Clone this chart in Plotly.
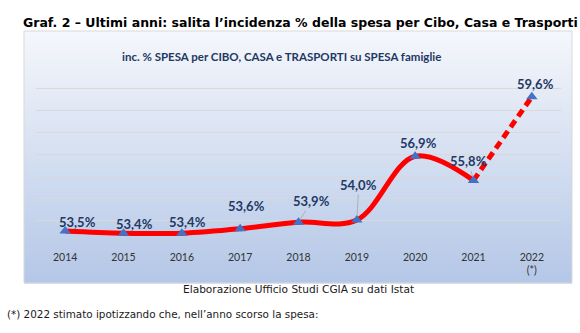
import plotly.graph_objects as go

# ---- data ----
years = [2014, 2015, 2016, 2017, 2018, 2019, 2020, 2021, 2022]
values = [53.5, 53.4, 53.4, 53.6, 53.9, 54.0, 56.9, 55.8, 59.6]
value_labels = ["53,5%", "53,4%", "53,4%", "53,6%", "53,9%", "54,0%", "56,9%", "55,8%", "59,6%"]
tick_labels = ["2014", "2015", "2016", "2017", "2018", "2019", "2020", "2021", "2022<br>(*)"]
n_actual = 8  # 2014-2021 observed, 2022 estimated

title_main = "Graf. 2 – Ultimi anni: salita l’incidenza % della spesa per Cibo, Casa e Trasporti"
title_inner = "inc. % SPESA per CIBO, CASA e TRASPORTI su SPESA famiglie"
caption = "Elaborazione Ufficio Studi CGIA su dati Istat"
footnote = "(*) 2022 stimato ipotizzando che, nell’anno scorso la spesa:"

# ---- layout geometry (pixels) ----
W, H = 580, 333
ML, MR, MT, MB = 36, 19, 66, 91
PW, PH = W - ML - MR, H - MT - MB

def px_x(px):
    return (px - ML) / PW

def px_y(py):
    return (H - MB - py) / PH

# label offsets (style): (dx, dy, leader)
label_style = [(12, -9, False), (11, -9, False), (6, -11, False), (6, -23, False),
               (13, -21, True), (2, -35, True), (3, -13, False), (-5, -19, True), (4, -13, False)]

fig = go.Figure()

# solid observed line
fig.add_trace(go.Scatter(x=years[:n_actual], y=values[:n_actual], mode="lines",
                         line=dict(color="#ff0000", width=5, shape="spline", smoothing=1),
                         hoverinfo="skip", showlegend=False))
# dashed estimate segment
fig.add_trace(go.Scatter(x=years[n_actual - 1:], y=values[n_actual - 1:], mode="lines",
                         line=dict(color="#ff0000", width=5, dash="8px,5px"),
                         hoverinfo="skip", showlegend=False))
# markers
fig.add_trace(go.Scatter(x=years, y=values, mode="markers",
                         marker=dict(symbol="triangle-up", size=10, color="#4472c4"),
                         hoverinfo="skip", showlegend=False))

shapes = []
# gradient box background
box_l, box_r, box_t, box_b = 24, 572, 31, 283
top_c = (245, 247, 251)
bot_c = (180, 199, 231)
n_strips = 63
step = (box_b - box_t) / n_strips
for i in range(n_strips):
    t = (i + 0.5) / n_strips
    c = tuple(round(top_c[k] + (bot_c[k] - top_c[k]) * t) for k in range(3))
    y0 = box_t + i * step
    y1 = box_t + (i + 1) * step + 0.6
    shapes.append(dict(type="rect", xref="paper", yref="paper",
                       x0=px_x(box_l), x1=px_x(box_r), y0=px_y(y1), y1=px_y(y0),
                       fillcolor="rgb(%d,%d,%d)" % c, line=dict(width=0), layer="below"))
shapes.append(dict(type="rect", xref="paper", yref="paper",
                   x0=px_x(box_l), x1=px_x(box_r), y0=px_y(box_b), y1=px_y(box_t),
                   fillcolor="rgba(0,0,0,0)", line=dict(width=1, color="#d9d9d9"), layer="below"))

label_font = dict(family="Lato", size=13, color="#1f3864")
annotations = []
for yr, v, lab, (dx, dy, leader) in zip(years, values, value_labels, label_style):
    if leader:
        annotations.append(dict(x=yr, y=v, xref="x", yref="y", text="<b>%s</b>" % lab,
                                showarrow=True, ax=dx, ay=dy, arrowhead=0, arrowwidth=0.8,
                                arrowcolor="#a6a6a6", standoff=4, font=label_font))
    else:
        annotations.append(dict(x=yr, y=v, xref="x", yref="y", text="<b>%s</b>" % lab,
                                showarrow=False, xshift=dx, yshift=-dy, font=label_font))

annotations.append(dict(x=px_x(281), y=px_y(48), xref="paper", yref="paper",
                        text="<b>%s</b>" % title_inner, showarrow=False,
                        font=dict(family="Lato", size=11.5, color="#1f3864")))
annotations.append(dict(x=px_x(298), y=px_y(297), xref="paper", yref="paper",
                        text=caption, showarrow=False,
                        font=dict(family="DejaVu Sans", size=10.6, color="#1a1a1a")))
annotations.append(dict(x=px_x(5), y=px_y(322), xref="paper", yref="paper", xanchor="left",
                        text=footnote, showarrow=False,
                        font=dict(family="DejaVu Sans", size=10.4, color="#1a1a1a")))
annotations.append(dict(x=px_x(300), y=px_y(13), xref="paper", yref="paper",
                        text="<b>%s</b>" % title_main, showarrow=False,
                        font=dict(family="DejaVu Sans", size=12.5, color="#000000")))

fig.update_layout(
    width=W, height=H,
    margin=dict(l=ML, r=MR, t=MT, b=MB, pad=0),
    paper_bgcolor="white", plot_bgcolor="rgba(0,0,0,0)",
    shapes=shapes, annotations=annotations,
    showlegend=False, hovermode=False,
    xaxis=dict(range=[years[0] - 0.5, years[-1] + 0.5], tickvals=years, ticktext=tick_labels,
               showgrid=False, zeroline=False, showline=False, ticks="",
               ticklabelstandoff=7,
               tickfont=dict(family="Lato", size=10.5, color="#333333")),
    yaxis=dict(range=[53, 61], dtick=1, showgrid=True, gridcolor="#d9d9d9", gridwidth=1,
               zeroline=False, showline=False, showticklabels=False, ticks=""),
)

fig.write_html("out.html", config={"displayModeBar": False})
